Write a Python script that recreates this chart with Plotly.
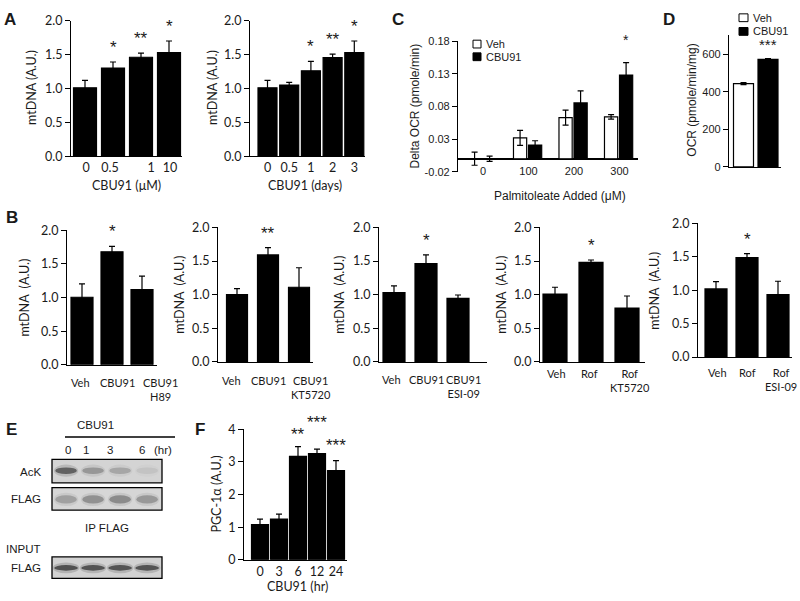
import plotly.graph_objects as go

W, H = 800, 601

# ---------------- DATA ----------------
a1_cats = ["0", "0.5", "1", "10"]
a1_vals = [1.01, 1.30, 1.46, 1.53]
a1_errs = [0.11, 0.09, 0.06, 0.17]
a1_sig = ["", "*", "**", "*"]

a2_cats = ["0", "0.5", "1", "2", "3"]
a2_vals = [1.01, 1.05, 1.26, 1.455, 1.53]
a2_errs = [0.11, 0.04, 0.14, 0.05, 0.17]
a2_sig = ["", "", "*", "**", "*"]

c_cats = ["0", "100", "200", "300"]
c_veh = [0.0, 0.032, 0.063, 0.064]
c_veh_err = [0.010, 0.0115, 0.0115, 0.0035]
c_cbu = [0.0, 0.021, 0.0855, 0.128]
c_cbu_err = [0.004, 0.0065, 0.0185, 0.019]
c_sig = ["", "", "", "*"]
c_ticks = [-0.02, 0.03, 0.08, 0.13, 0.18]
c_ticktext = ["-0.02", "0.03", "0.08", "0.13", "0.18"]

d_groups = ["Veh", "CBU91"]
d_vals = [443, 572]
d_errs = [5, 4]
d_sig = ["", "***"]
d_ticks = [0, 200, 400, 600]

b1_cats = ["Veh", "CBU91", "CBU91<br>H89"]
b1_vals = [1.005, 1.68, 1.12]
b1_errs = [0.20, 0.08, 0.20]
b1_sig = ["", "*", ""]

b2_cats = ["Veh", "CBU91", "CBU91<br>KT5720"]
b2_vals = [1.00, 1.59, 1.11]
b2_errs = [0.09, 0.11, 0.29]
b2_sig = ["", "**", ""]

b3_cats = ["Veh", "CBU91", "CBU91<br>ESI-09"]
b3_vals = [1.03, 1.46, 0.945]
b3_errs = [0.10, 0.13, 0.05]
b3_sig = ["", "*", ""]

b4_cats = ["Veh", "Rof", "Rof<br>KT5720"]
b4_vals = [1.01, 1.48, 0.80]
b4_errs = [0.10, 0.035, 0.18]
b4_sig = ["", "*", ""]

b5_cats = ["Veh", "Rof", "Rof<br>ESI-09"]
b5_vals = [1.02, 1.49, 0.935]
b5_errs = [0.11, 0.06, 0.20]
b5_sig = ["", "*", ""]

mt_ticks = [0.0, 0.5, 1.0, 1.5, 2.0]
mt_ticktext = ["0.0", "0.5", "1.0", "1.5", "2.0"]

f_cats = ["0", "3", "6", "12", "24"]
f_vals = [1.08, 1.25, 3.17, 3.25, 2.73]
f_errs = [0.17, 0.15, 0.30, 0.14, 0.31]
f_sig = ["", "", "**", "***", "***"]
f_ticks = [0, 1, 2, 3, 4]

e_lanes = ["0", "1", "3", "6"]
e_ack_band = [0.80, 0.40, 0.30, 0.10]
e_flag_ip_band = [0.35, 0.45, 0.50, 0.40]
e_flag_in_band = [0.95, 0.92, 0.92, 0.92]

# ---------------- STYLE ----------------
CAL = "Lato, Carlito, 'Open Sans', sans-serif"
ARI = "'Liberation Sans', Arial, sans-serif"
TXT = "#1a1a1a"

fig = go.Figure()
layout = dict(
    width=W, height=H, autosize=False,
    margin=dict(l=0, r=0, t=0, b=0),
    paper_bgcolor="white", plot_bgcolor="white",
    showlegend=False, barmode="overlay",
    annotations=[], shapes=[],
)


def xdom(a, b):
    return [a / W, b / W]


def ydom(top, bottom):
    return [1 - bottom / H, 1 - top / H]


def axname(n):
    return ("", "") if n == 1 else (str(n), str(n))


def add_panel(n, cats, vals, errs, sig, xs, xe, c0, sp, wpx, ytop, ybot,
              yrange, yticks, yticktext, font=CAL, fsize=12.5, star_size=17,
              colors=None, star_shift=3, star_extra=None, label_px=None,
              xlabels=True):
    sx, sy = axname(n)
    xr = [(xs - c0) / sp, (xe - c0) / sp]
    xpos = list(range(len(cats)))
    tv = xpos if label_px is None else [(p - c0) / sp for p in label_px]
    layout["xaxis" + sx] = dict(
        domain=xdom(xs, xe), range=xr, anchor="y" + sy,
        showline=True, linecolor="black", linewidth=1.2, ticks="",
        showgrid=False, zeroline=False, tickmode="array", tickvals=tv,
        ticktext=cats, tickangle=0, showticklabels=xlabels,
        tickfont=dict(family=font, size=fsize, color=TXT),
        fixedrange=True,
    )
    layout["yaxis" + sy] = dict(
        domain=ydom(ytop, ybot), range=yrange, anchor="x" + sx,
        showline=True, linecolor="black", linewidth=1.2, ticks="outside",
        ticklen=5, tickcolor="black", tickwidth=1.2, showgrid=False,
        zeroline=False, tickmode="array", tickvals=yticks,
        ticktext=yticktext, tickfont=dict(family=font, size=fsize, color=TXT),
        fixedrange=True,
    )
    fig.add_trace(go.Bar(
        x=xpos, y=vals, width=wpx / sp,
        marker=dict(color=colors or "black", line=dict(color="black", width=1.2)),
        error_y=dict(type="data", array=errs, visible=True, color="black",
                     thickness=1.2, width=3),
        xaxis="x" + sx, yaxis="y" + sy, hoverinfo="skip",
    ))
    extra = star_extra or [0] * len(sig)
    for i, s in enumerate(sig):
        if s:
            layout["annotations"].append(dict(
                x=i, y=vals[i] + errs[i], xref="x" + sx, yref="y" + sy,
                text=s, showarrow=False, yanchor="bottom",
                yshift=star_shift + extra[i],
                font=dict(family=ARI, size=star_size, color=TXT),
            ))


def ann(x, y, text, font=CAL, size=12.5, angle=0, xanchor="center",
        yanchor="middle", bold=False):
    layout["annotations"].append(dict(
        x=x / W, y=1 - y / H, xref="paper", yref="paper", text=text,
        showarrow=False, textangle=angle, xanchor=xanchor, yanchor=yanchor,
        font=dict(family=font, size=size, color=TXT,
                  weight="bold" if bold else "normal"),
    ))


# ---------------- PANEL A ----------------
add_panel(1, a1_cats, a1_vals, a1_errs, a1_sig, 71, 182, 85, 28, 23, 13, 152,
          [0, 2], mt_ticks, mt_ticktext, label_px=[86, 110, 151, 170])
add_panel(2, a2_cats, a2_vals, a2_errs, a2_sig, 250, 365, 267.5, 21.7, 19, 13, 152,
          [0, 2], mt_ticks, mt_ticktext)
ann(32, 82, "mtDNA (A.U.)", angle=-90)
ann(213, 82, "mtDNA (A.U.)", angle=-90)
ann(126, 182, "CBU91 (μM)")
ann(305, 182, "CBU91 (days)")

# ---------------- PANEL C ----------------
c_xs, c_xe, c_c0, c_sp = 458, 638, 483, 45.5
layout["xaxis3"] = dict(
    domain=xdom(c_xs, c_xe), range=[(c_xs - c_c0) / c_sp, (c_xe - c_c0) / c_sp],
    anchor="free", position=1 - 159 / H, showline=False, ticks="",
    showgrid=False, zeroline=False,
    tickmode="array", tickvals=list(range(len(c_cats))), ticktext=c_cats,
    tickangle=0, tickfont=dict(family=ARI, size=11, color=TXT), fixedrange=True,
)
layout["yaxis3"] = dict(
    domain=ydom(34, 168), range=[-0.02, 0.18], anchor="x3",
    showline=True, linecolor="black", linewidth=1.2, ticks="outside",
    ticklen=5, tickwidth=1.2, tickcolor="black", showgrid=False,
    zeroline=True, zerolinecolor="black", zerolinewidth=1.5,
    tickmode="array", tickvals=c_ticks, ticktext=c_ticktext,
    tickfont=dict(family=ARI, size=11, color=TXT), fixedrange=True,
)
cx = list(range(len(c_cats)))
fig.add_trace(go.Bar(
    x=cx, y=c_veh, offset=-0.33, width=0.29,
    marker=dict(color="white", line=dict(color="black", width=1.2)),
    error_y=dict(type="data", array=c_veh_err, color="black", thickness=1.2, width=3),
    xaxis="x3", yaxis="y3", hoverinfo="skip",
))
fig.add_trace(go.Bar(
    x=cx, y=c_cbu, offset=0.0, width=0.29,
    marker=dict(color="black", line=dict(color="black", width=1.2)),
    error_y=dict(type="data", array=c_cbu_err, color="black", thickness=1.2, width=3),
    xaxis="x3", yaxis="y3", hoverinfo="skip",
))
for i, s in enumerate(c_sig):
    if s:
        layout["annotations"].append(dict(
            x=i + 0.145, y=c_cbu[i] + c_cbu_err[i], xref="x3", yref="y3",
            text=s, showarrow=False, yanchor="bottom", yshift=13,
            font=dict(family=ARI, size=14, color=TXT),
        ))
ann(415, 101, "Delta OCR (pmole/min)", font=ARI, size=12, angle=-90)
ann(560, 193, "Palmitoleate Added (μM)", font=ARI, size=12)
for k, (lab, col) in enumerate([("Veh", "white"), ("CBU91", "black")]):
    yy = 37 + k * 13
    layout["shapes"].append(dict(type="rect", xref="paper", yref="paper",
                                 x0=473 / W, x1=481 / W, y0=1 - (yy + 4) / H, y1=1 - (yy - 4) / H,
                                 fillcolor=col, line=dict(color="black", width=1)))
    ann(484, yy, lab, font=ARI, size=11, xanchor="left")

# ---------------- PANEL D ----------------
add_panel(4, ["", ""], d_vals, d_errs, d_sig, 729, 781, 743.5, 24.5, 20, 28, 163,
          [0, 700], d_ticks, [str(t) for t in d_ticks], font=ARI, fsize=11,
          star_size=15, colors=["white", "black"], star_shift=4, xlabels=False)
ann(692, 95, "OCR (pmole/min/mg)", font=ARI, size=12, angle=-90)
for k, (lab, col) in enumerate([("Veh", "white"), ("CBU91", "black")]):
    yy = 10 + k * 14
    layout["shapes"].append(dict(type="rect", xref="paper", yref="paper",
                                 x0=739 / W, x1=748 / W, y0=1 - (yy + 4) / H, y1=1 - (yy - 4) / H,
                                 fillcolor=col, line=dict(color="black", width=1)))
    ann(751, yy, lab, font=ARI, size=11, xanchor="left")

# ---------------- PANEL B ----------------
b_panels = [
    (5, b1_cats, b1_vals, b1_errs, b1_sig, 67, 157, 82, 30, 22, 228, 366, [80, 117, 160], 383),
    (6, b2_cats, b2_vals, b2_errs, b2_sig, 218, 313, 237, 31, 21, 225, 363, [231, 268, 311], 381),
    (7, b3_cats, b3_vals, b3_errs, b3_sig, 379, 487, 394, 32, 22, 225, 363, [391, 426, 464], 380),
    (8, b4_cats, b4_vals, b4_errs, b4_sig, 540, 645, 555, 36, 24, 225, 363, [556, 589, 630], 374),
    (9, b5_cats, b5_vals, b5_errs, b5_sig, 698, 792, 716, 31, 22, 221, 358, [717, 747, 781], 373),
]
for n, cats, vals, errs, sig, xs, xe, c0, sp, wpx, yt, yb, lpx, ly in b_panels:
    add_panel(n, cats, vals, errs, sig, xs, xe, c0, sp, wpx, yt, yb,
              [0, 2], mt_ticks, mt_ticktext, xlabels=False)
    for lab, xx in zip(cats, lpx):
        layout["annotations"].append(dict(
            x=xx / W, y=1 - (ly - 8) / H, xref="paper", yref="paper", text=lab,
            showarrow=False, xanchor="center", yanchor="top", align="center",
            font=dict(family=CAL, size=11, color=TXT),
        ))
for xx, yy in [(25, 297), (180, 294), (340, 294), (502, 294), (655, 290)]:
    ann(xx, yy, "mtDNA  (A.U.)", angle=-90)

# ---------------- PANEL F ----------------
add_panel(10, f_cats, f_vals, f_errs, f_sig, 244, 347, 260, 19, 17, 432, 566,
          [0, 4], f_ticks, [str(t) for t in f_ticks], star_shift=1,
          star_extra=[0, 0, 0, 14, 3])
ann(217, 499, "PGC-1α (A.U.)", angle=-90)
ann(297, 593, "CBU91 (hr)")

# ---------------- PANEL E (blot) ----------------
blots = [
    (11, 463, 487, e_ack_band, "#d4d4d4", 0.38, 0.66, 0.40),
    (12, 492, 515, e_flag_ip_band, "#d6d6d6", 0.30, 0.66, 0.40),
    (13, 563, 585, e_flag_in_band, "#d2d2d2", 0.36, 0.62, 0.44),
]
for n, yt, yb, bands, bg, b0, b1, hw in blots:
    layout[f"xaxis{n}"] = dict(domain=xdom(52, 162), range=[-0.52, 3.55],
                               anchor=f"y{n}", visible=False, fixedrange=True)
    layout[f"yaxis{n}"] = dict(domain=ydom(yt, yb), range=[0, 1],
                               anchor=f"x{n}", visible=False, fixedrange=True)
    layout["shapes"].append(dict(type="rect", xref=f"x{n} domain", yref=f"y{n} domain",
                                 x0=0, x1=1, y0=0, y1=1, fillcolor=bg,
                                 line=dict(color="black", width=1.3), layer="below"))
    for i, v in enumerate(bands):
        layout["shapes"].append(dict(type="circle", xref=f"x{n}", yref=f"y{n}",
                                     x0=i - hw - 0.05, x1=i + hw + 0.05,
                                     y0=b0 - 0.12, y1=b1 + 0.12,
                                     fillcolor=f"rgba(80,80,80,{v * 0.25:.2f})",
                                     line=dict(width=0)))
        layout["shapes"].append(dict(type="circle", xref=f"x{n}", yref=f"y{n}",
                                     x0=i - hw, x1=i + hw, y0=b0, y1=b1,
                                     fillcolor=f"rgba(30,30,30,{v * 0.7:.2f})",
                                     line=dict(width=0)))
    fig.add_trace(go.Scatter(x=[0], y=[0], mode="markers", marker=dict(opacity=0),
                             xaxis=f"x{n}", yaxis=f"y{n}", hoverinfo="skip"))

ann(95, 428, "CBU91", font=ARI, size=11.5)
layout["shapes"].append(dict(type="line", xref="paper", yref="paper",
                             x0=65 / W, x1=175 / W, y0=1 - 440 / H, y1=1 - 440 / H,
                             line=dict(color="black", width=1.3)))
for lab, xx in zip(e_lanes, [68, 86, 110, 142]):
    ann(xx, 453, lab, font=ARI, size=11.5)
ann(163, 453, "(hr)", font=ARI, size=11.5)
ann(43, 476, "AcK", font=ARI, size=11.5, xanchor="right")
ann(43, 504, "FLAG", font=ARI, size=11.5, xanchor="right")
ann(107, 533, "IP FLAG", font=ARI, size=11.5)
ann(43, 555, "INPUT", font=ARI, size=11.5, xanchor="right")
ann(43, 574, "FLAG", font=ARI, size=11.5, xanchor="right")

# ---------------- PANEL LETTERS ----------------
for lab, xx, yy in [("A", 2, 12), ("B", 4, 215), ("C", 390, 12), ("D", 661, 12),
                    ("E", 4, 432), ("F", 193, 432)]:
    ann(xx, yy, lab, font=ARI, size=17, xanchor="left", bold=True)

fig.update_layout(**layout)
fig.write_html("out.html", config={"displayModeBar": False},
               post_script="document.body.style.margin='0';document.body.style.padding='0';")
